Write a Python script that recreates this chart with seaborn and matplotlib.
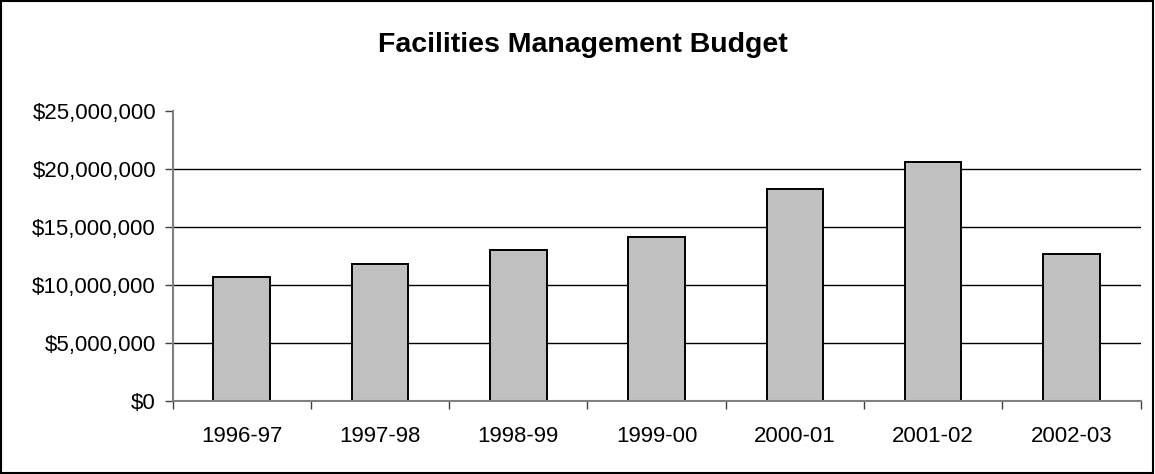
import matplotlib
matplotlib.use("Agg")
import matplotlib.pyplot as plt
import matplotlib.ticker as mticker
from matplotlib.patches import Rectangle
import numpy as np
import pandas as pd
import seaborn as sns

years = ["1996-97", "1997-98", "1998-99", "1999-00", "2000-01", "2001-02", "2002-03"]
budget = [10720000, 11810000, 13020000, 14140000, 18300000, 20630000, 12700000]
y_ticks = [0, 5000000, 10000000, 15000000, 20000000, 25000000]
title = "Facilities Management Budget"

sns.set_theme(style="white")
plt.rcParams["font.family"] = ["Liberation Sans", "DejaVu Sans"]

df = pd.DataFrame({"Year": years, "Budget": budget})

fig = plt.figure(figsize=(11.55, 4.74), dpi=100)
ax = fig.add_axes([172.7 / 1155, 1 - 401 / 474, (1140.5 - 172.7) / 1155, (401 - 111) / 474])

sns.barplot(data=df, x="Year", y="Budget", color="#C0C0C0", saturation=1,
            edgecolor="black", linewidth=1.4, width=0.41, ax=ax, zorder=3)

ax.set_ylim(y_ticks[0], y_ticks[-1])
ax.set_xlim(-0.5, len(years) - 0.5)
ax.set_yticks(y_ticks)
ax.yaxis.set_major_formatter(mticker.FuncFormatter(lambda v, p: "${:,.0f}".format(v)))
ax.set_xlabel("")
ax.set_ylabel("")

ax.yaxis.grid(True, color="black", linewidth=1.0, zorder=0)
ax.set_axisbelow(True)
gl = ax.get_ygridlines()
gl[0].set_visible(False)
gl[-1].set_visible(False)

for s in ["top", "right"]:
    ax.spines[s].set_visible(False)
for s in ["left", "bottom"]:
    ax.spines[s].set_visible(True)
    ax.spines[s].set_color("#808080")
    ax.spines[s].set_linewidth(1.5)
    ax.spines[s].set_zorder(4)

ax.tick_params(axis="y", which="major", left=True, length=6, width=1.0, color="#404040",
               direction="out", pad=6, labelsize=16, labelcolor="black")
ax.tick_params(axis="x", which="major", bottom=True, length=0, pad=18, labelsize=16, labelcolor="black")
ax.set_xticks(np.arange(-0.5, len(years)), minor=True)
ax.tick_params(axis="x", which="minor", bottom=True, length=6, width=1.0, color="#404040", direction="out")

fig.text(583 / 1155, 1 - 51.7 / 474, title, ha="center", va="baseline",
         fontsize=20.5, fontweight="bold", color="black")

fig.patches.append(Rectangle((0.001, 0.002), 0.997, 0.996, transform=fig.transFigure,
                             fill=False, edgecolor="black", linewidth=1.5))

fig.savefig("out.png", dpi=100, facecolor="white")
